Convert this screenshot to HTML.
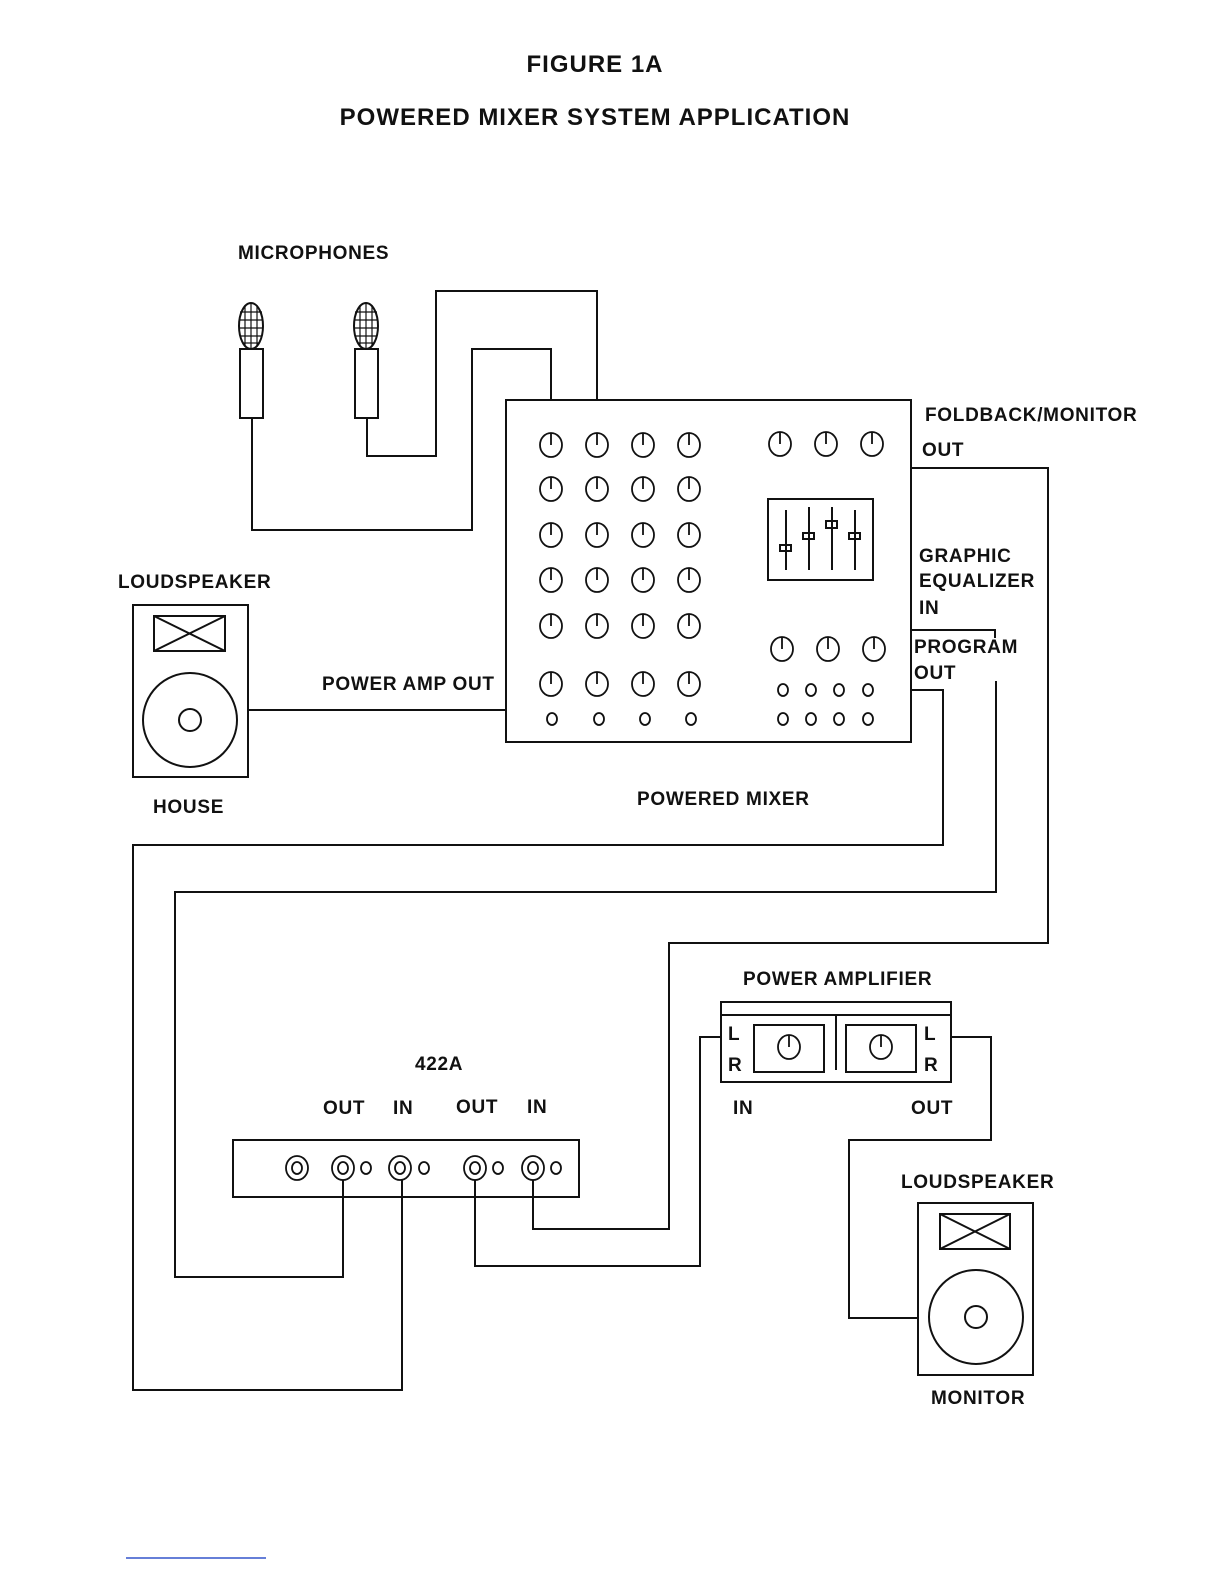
<!DOCTYPE html>
<html><head><meta charset="utf-8"><style>
html,body{margin:0;padding:0;background:#fff}
svg{display:block}
text{font-family:"Liberation Sans",Arial,sans-serif;font-weight:bold;fill:#111}
</style></head><body>
<svg width="1224" height="1584" viewBox="0 0 1224 1584" xmlns="http://www.w3.org/2000/svg">
<g fill="none" stroke="#111" stroke-width="2">
<polyline points="252,418 252,530 472,530 472,349 551,349 551,400"/>
<polyline points="367,418 367,456 436,456 436,291 597,291 597,400"/>
<ellipse cx="251" cy="326" rx="12" ry="23" fill="#fff"/>
<rect x="240" y="349" width="23" height="69" fill="#fff"/>
<ellipse cx="366" cy="326" rx="12" ry="23" fill="#fff"/>
<rect x="355" y="349" width="23" height="69" fill="#fff"/>
</g>
<g stroke="#111" stroke-width="1.2">
<line x1="240" y1="312" x2="262" y2="312"/><line x1="240" y1="320" x2="263" y2="320"/><line x1="239" y1="328" x2="263" y2="328"/><line x1="240" y1="336" x2="262" y2="336"/><line x1="243" y1="343" x2="259" y2="343"/>
<line x1="245" y1="305" x2="245" y2="347"/><line x1="251" y1="303" x2="251" y2="349"/><line x1="257" y1="305" x2="257" y2="347"/>
<line x1="355" y1="312" x2="377" y2="312"/><line x1="355" y1="320" x2="378" y2="320"/><line x1="354" y1="328" x2="378" y2="328"/><line x1="355" y1="336" x2="377" y2="336"/><line x1="358" y1="343" x2="374" y2="343"/>
<line x1="360" y1="305" x2="360" y2="347"/><line x1="366" y1="303" x2="366" y2="349"/><line x1="372" y1="305" x2="372" y2="347"/>
</g>
<g fill="none" stroke="#111" stroke-width="2">
<rect x="506" y="400" width="405" height="342"/>
<rect x="768" y="499" width="105" height="81"/>
<line x1="786" y1="510" x2="786" y2="570"/><rect x="780" y="545" width="11" height="6"/>
<line x1="809" y1="507" x2="809" y2="570"/><rect x="803" y="533" width="11" height="6"/>
<line x1="832" y1="507" x2="832" y2="570"/><rect x="826" y="521" width="11" height="7"/>
<line x1="855" y1="510" x2="855" y2="570"/><rect x="849" y="533" width="11" height="6"/>
<rect x="133" y="605" width="115" height="172"/>
<rect x="154" y="616" width="71" height="35"/>
<line x1="154" y1="616" x2="225" y2="651"/><line x1="225" y1="616" x2="154" y2="651"/>
<circle cx="190" cy="720" r="47"/><circle cx="190" cy="720" r="11"/>
<line x1="248" y1="710" x2="506" y2="710"/>
<polyline points="911,468 1048,468 1048,943 669,943 669,1229 533,1229 533,1180"/>
<polyline points="911,630 995,630 995,638"/>
<polyline points="911,690 943,690 943,845 133,845 133,1390 402,1390 402,1180"/>
<polyline points="996,681 996,892 175,892 175,1277 343,1277 343,1180"/>
<polyline points="475,1180 475,1266 700,1266 700,1037 722,1037"/>
<rect x="233" y="1140" width="346" height="57"/>
<rect x="721" y="1002" width="230" height="80"/>
<line x1="721" y1="1015" x2="951" y2="1015"/>
<line x1="836" y1="1015" x2="836" y2="1070"/>
<rect x="754" y="1025" width="70" height="47"/>
<rect x="846" y="1025" width="70" height="47"/>
<polyline points="951,1037 991,1037 991,1140 849,1140 849,1318 918,1318"/>
<rect x="918" y="1203" width="115" height="172"/>
<rect x="940" y="1214" width="70" height="35"/>
<line x1="940" y1="1214" x2="1010" y2="1249"/><line x1="1010" y1="1214" x2="940" y2="1249"/>
<circle cx="976" cy="1317" r="47"/><circle cx="976" cy="1317" r="11"/>
</g>
<g fill="none" stroke="#111" stroke-width="1.8">
<ellipse cx="551" cy="445" rx="11" ry="12"/><ellipse cx="597" cy="445" rx="11" ry="12"/><ellipse cx="643" cy="445" rx="11" ry="12"/><ellipse cx="689" cy="445" rx="11" ry="12"/>
<ellipse cx="551" cy="489" rx="11" ry="12"/><ellipse cx="597" cy="489" rx="11" ry="12"/><ellipse cx="643" cy="489" rx="11" ry="12"/><ellipse cx="689" cy="489" rx="11" ry="12"/>
<ellipse cx="551" cy="535" rx="11" ry="12"/><ellipse cx="597" cy="535" rx="11" ry="12"/><ellipse cx="643" cy="535" rx="11" ry="12"/><ellipse cx="689" cy="535" rx="11" ry="12"/>
<ellipse cx="551" cy="580" rx="11" ry="12"/><ellipse cx="597" cy="580" rx="11" ry="12"/><ellipse cx="643" cy="580" rx="11" ry="12"/><ellipse cx="689" cy="580" rx="11" ry="12"/>
<ellipse cx="551" cy="626" rx="11" ry="12"/><ellipse cx="597" cy="626" rx="11" ry="12"/><ellipse cx="643" cy="626" rx="11" ry="12"/><ellipse cx="689" cy="626" rx="11" ry="12"/>
<ellipse cx="551" cy="684" rx="11" ry="12"/><ellipse cx="597" cy="684" rx="11" ry="12"/><ellipse cx="643" cy="684" rx="11" ry="12"/><ellipse cx="689" cy="684" rx="11" ry="12"/>
<ellipse cx="780" cy="444" rx="11" ry="12"/><ellipse cx="826" cy="444" rx="11" ry="12"/><ellipse cx="872" cy="444" rx="11" ry="12"/>
<ellipse cx="782" cy="649" rx="11" ry="12"/><ellipse cx="828" cy="649" rx="11" ry="12"/><ellipse cx="874" cy="649" rx="11" ry="12"/>
<ellipse cx="789" cy="1047" rx="11" ry="12"/><ellipse cx="881" cy="1047" rx="11" ry="12"/>
<path d="M551 433v12M597 433v12M643 433v12M689 433v12M551 477v12M597 477v12M643 477v12M689 477v12M551 523v12M597 523v12M643 523v12M689 523v12M551 568v12M597 568v12M643 568v12M689 568v12M551 614v12M597 614v12M643 614v12M689 614v12M551 672v12M597 672v12M643 672v12M689 672v12M780 432v12M826 432v12M872 432v12M782 637v12M828 637v12M874 637v12M789 1035v12M881 1035v12"/>
<ellipse cx="552" cy="719" rx="5" ry="6"/><ellipse cx="599" cy="719" rx="5" ry="6"/><ellipse cx="645" cy="719" rx="5" ry="6"/><ellipse cx="691" cy="719" rx="5" ry="6"/>
<ellipse cx="783" cy="690" rx="5" ry="6"/><ellipse cx="811" cy="690" rx="5" ry="6"/><ellipse cx="839" cy="690" rx="5" ry="6"/><ellipse cx="868" cy="690" rx="5" ry="6"/>
<ellipse cx="783" cy="719" rx="5" ry="6"/><ellipse cx="811" cy="719" rx="5" ry="6"/><ellipse cx="839" cy="719" rx="5" ry="6"/><ellipse cx="868" cy="719" rx="5" ry="6"/>
<ellipse cx="297" cy="1168" rx="11" ry="12"/><ellipse cx="297" cy="1168" rx="5" ry="6"/>
<ellipse cx="343" cy="1168" rx="11" ry="12"/><ellipse cx="343" cy="1168" rx="5" ry="6"/><ellipse cx="366" cy="1168" rx="5" ry="6"/>
<ellipse cx="400" cy="1168" rx="11" ry="12"/><ellipse cx="400" cy="1168" rx="5" ry="6"/><ellipse cx="424" cy="1168" rx="5" ry="6"/>
<ellipse cx="475" cy="1168" rx="11" ry="12"/><ellipse cx="475" cy="1168" rx="5" ry="6"/><ellipse cx="498" cy="1168" rx="5" ry="6"/>
<ellipse cx="533" cy="1168" rx="11" ry="12"/><ellipse cx="533" cy="1168" rx="5" ry="6"/><ellipse cx="556" cy="1168" rx="5" ry="6"/>
</g>
<line x1="126" y1="1558" x2="266" y2="1558" stroke="#3355cc" stroke-width="1.5"/>
<g font-size="24" text-anchor="middle" letter-spacing="1">
<text x="595" y="72">FIGURE 1A</text>
<text x="595" y="125">POWERED MIXER SYSTEM APPLICATION</text>
</g>
<g font-size="19" letter-spacing="0.7">
<text x="238" y="259">MICROPHONES</text>
<text x="925" y="421">FOLDBACK/MONITOR</text>
<text x="922" y="456">OUT</text>
<text x="919" y="562">GRAPHIC</text>
<text x="919" y="587">EQUALIZER</text>
<text x="919" y="614">IN</text>
<text x="914" y="653">PROGRAM</text>
<text x="914" y="679">OUT</text>
<text x="118" y="588">LOUDSPEAKER</text>
<text x="322" y="690">POWER AMP OUT</text>
<text x="153" y="813">HOUSE</text>
<text x="637" y="805">POWERED MIXER</text>
<text x="743" y="985">POWER AMPLIFIER</text>
<text x="415" y="1070">422A</text>
<text x="323" y="1114">OUT</text>
<text x="393" y="1114">IN</text>
<text x="456" y="1113">OUT</text>
<text x="527" y="1113">IN</text>
<text x="733" y="1114">IN</text>
<text x="911" y="1114">OUT</text>
<text x="728" y="1040">L</text>
<text x="728" y="1071">R</text>
<text x="924" y="1040">L</text>
<text x="924" y="1071">R</text>
<text x="901" y="1188">LOUDSPEAKER</text>
<text x="931" y="1404">MONITOR</text>
</g>
</svg>
</body></html>
